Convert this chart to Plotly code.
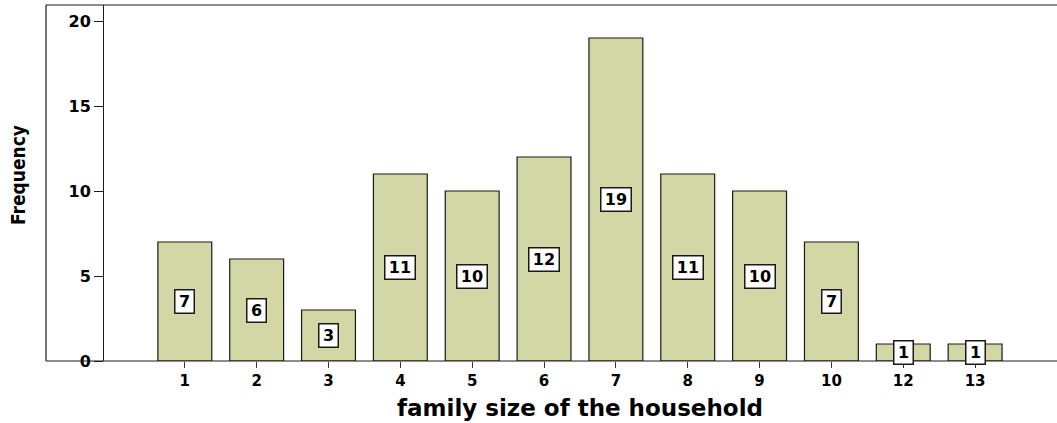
import plotly.graph_objects as go

categories = ["1", "2", "3", "4", "5", "6", "7", "8", "9", "10", "12", "13"]
frequency = [7, 6, 3, 11, 10, 12, 19, 11, 10, 7, 1, 1]
y_ticks = [0, 5, 10, 15, 20]

W, H = 1057, 423
ML, MR, MT, MB = 104, 0, 5, 62
plot_w = W - ML - MR
plot_h = H - MT - MB
frame_left = (46 - ML) / plot_w

fig = go.Figure()
fig.add_trace(go.Bar(
    x=categories, y=frequency,
    marker=dict(color="#d3d6a5", line=dict(color="#1a1a1a", width=1.2)),
    width=0.75, hoverinfo="skip",
))

annotations = []
for i, v in enumerate(frequency):
    label = str(v)
    annotations.append(dict(
        x=i, y=v / 2, xref="x", yref="y", text=label, showarrow=False,
        font=dict(family="DejaVu Sans", size=16, color="black", weight="bold"),
        bgcolor="white", bordercolor="#1a1a1a", borderwidth=1.5, borderpad=1.5,
        width=11 * len(label) + 4, height=19,
    ))
annotations.append(dict(
    x=(580 - ML) / plot_w, y=-(408 - (H - MB)) / plot_h,
    xref="paper", yref="paper", showarrow=False,
    text="family size of the household",
    font=dict(family="DejaVu Sans", size=23, color="black", weight="bold"),
    xanchor="center", yanchor="middle",
))
annotations.append(dict(
    x=(18 - ML) / plot_w, y=((H - MB) - 175) / plot_h,
    xref="paper", yref="paper", showarrow=False, textangle=-90,
    text="Frequency",
    font=dict(family="Liberation Sans Narrow, DejaVu Sans Condensed, Liberation Sans", size=19, color="black", weight="bold"),
    xanchor="center", yanchor="middle",
))

fig.update_layout(
    width=W, height=H,
    margin=dict(l=ML, r=MR, t=MT, b=MB),
    paper_bgcolor="white", plot_bgcolor="white",
    showlegend=False, annotations=annotations,
)

fig.update_xaxes(
    type="category", range=[-1.125, 12.14],
    showline=False, ticks="outside", ticklen=6, tickcolor="#333", tickwidth=1,
    tickfont=dict(family="DejaVu Sans", size=15, color="black", weight="bold"),
    showgrid=False, zeroline=False,
)
fig.update_yaxes(
    range=[0, (361 - 5) / 17], tickvals=y_ticks,
    showline=True, linecolor="#1a1a1a", linewidth=1,
    ticks="outside", ticklen=9, tickcolor="#1a1a1a", tickwidth=1,
    tickfont=dict(family="DejaVu Sans", size=16, color="black", weight="bold"),
    showgrid=False, zeroline=False,
)

line = dict(color="#1a1a1a", width=1.2)
fig.add_shape(type="line", xref="paper", yref="paper", x0=frame_left, x1=1, y0=0, y1=0, line=line)
fig.add_shape(type="line", xref="paper", yref="paper", x0=frame_left, x1=1, y0=1, y1=1, line=line)
fig.add_shape(type="line", xref="paper", yref="paper", x0=frame_left, x1=frame_left, y0=0, y1=1, line=line)

fig.write_html(
    "out.html",
    config={"displayModeBar": False},
    post_script="document.body.style.margin='0';document.body.style.overflow='hidden';",
)
